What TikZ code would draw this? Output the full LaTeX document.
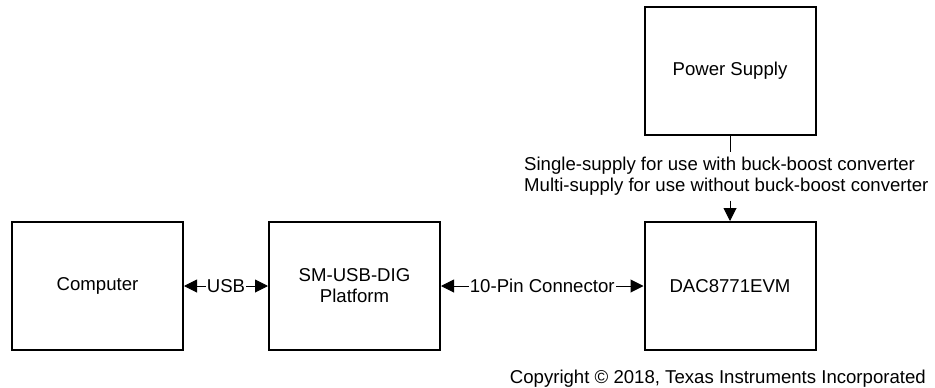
\documentclass[tikz,border=0pt]{standalone}
\usepackage{fontspec}
\setmainfont{Liberation Sans}
\usetikzlibrary{arrows.meta}

\tikzset{
    block/.style = {draw, line width=2pt, minimum width=171pt, minimum height=128pt,
                    align=center, font=\fontsize{18.6}{21}\selectfont},
    link/.style = {line width=1pt, {Triangle[length=13pt,width=13pt]}-{Triangle[length=13pt,width=13pt]}},
    feed/.style = {line width=1pt, -{Triangle[length=13pt,width=13pt]}},
    tag/.style = {fill=white, inner sep=1pt, font=\fontsize{18.6}{21}\selectfont}
}

\begin{document}
\begin{tikzpicture}[x=1pt, y=-1pt]
            \useasboundingbox (0,0) rectangle (935,388);

            % blocks
            \node [block] (computer) at (97.5,286) {Computer};
            \node [block] (platform) at (354.5,286) {SM-USB-DIG\\Platform};
            \node [block] (evm) at (730,286) {DAC8771EVM};
            \node [block] (supply) at (730,71) {Power Supply};

            % supply note
            \node [anchor=north west, align=left, inner xsep=0pt, inner ysep=5pt,
                   font=\fontsize{18.6}{21}\selectfont] (note) at (524,152)
                {Single-supply for use with buck-boost converter\\
                 Multi-supply for use without buck-boost converter};

            % connectors
            \draw [link] (computer) -- node [tag] {USB} (platform);
            \draw [link] (platform) -- node [tag] {10-Pin Connector} (evm);
            \draw [line width=1pt] (supply) -- (supply.south |- note.north);
            \draw [feed] (evm.north |- note.south) -- (evm);

            \node [anchor=base east, inner sep=0pt, font=\fontsize{18.6}{21}\selectfont]
                (copyright) at (926,383) {Copyright © 2018, Texas Instruments Incorporated};
        \end{tikzpicture}
\end{document}
